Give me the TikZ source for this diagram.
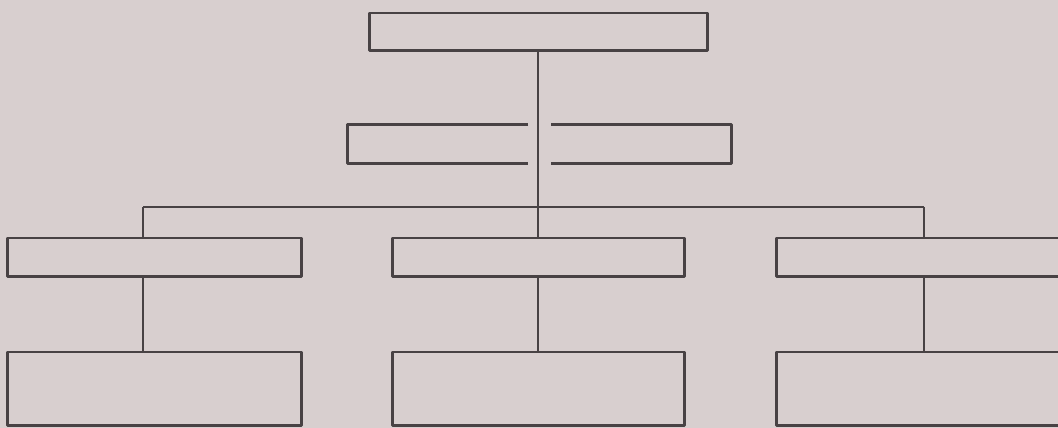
\documentclass[tikz,border=0pt]{standalone}
\usetikzlibrary{positioning}
\definecolor{paper}{RGB}{216,207,207}
\definecolor{ink}{RGB}{72,66,68}
\tikzset{
  unitbox/.style={draw=ink, line width=1.7pt, line join=round, inner sep=0pt,
                  minimum width=#1},
  unitbox/.default=5.9cm,
  gapline/.style={ink, line width=1.7pt, line join=round},
  link/.style={draw=ink, line width=1.1pt},
}
\begin{document}
\begin{tikzpicture}[x=0.02cm, y=-0.02cm]
  % page and clip
  \fill[paper] (0,0) rectangle (1058,428);
  \useasboundingbox (0,0) rectangle (1058,428);
  \clip (0,0) rectangle (1058,428);

  % top box
  \node[unitbox=6.78cm, minimum height=0.76cm] (head) at (538.5,32) {};

  % middle box, open round the trunk
  \node[inner sep=0pt, minimum width=7.66cm, minimum height=0.76cm] (mid) at (539.5,144) {};
  \coordinate (gl) at (528,144);
  \coordinate (gr) at (551,144);
  \draw[gapline] (gl |- mid.north) -- (mid.north west) -- (mid.south west) -- (gl |- mid.south);
  \draw[gapline] (gr |- mid.north) -- (mid.north east) -- (mid.south east) -- (gr |- mid.south);

  % first row
  \node[unitbox, minimum height=0.78cm] (left1)  at (154.5,257.5) {};
  \node[unitbox=5.86cm, minimum height=0.78cm] (cent1) at (538.5,257.5) {};
  \node[unitbox, minimum height=0.78cm] (right1) at (923.5,257.5) {};

  % second row
  \node[unitbox, minimum height=1.48cm] (left2)  at (154.5,389) {};
  \node[unitbox=5.86cm, minimum height=1.48cm] (cent2) at (538.5,389) {};
  \node[unitbox, minimum height=1.48cm] (right2) at (923.5,389) {};

  % bus
  \coordinate (busl) at (143,207);
  \coordinate (busm) at (538,207);
  \coordinate (busr) at (924,207);

  % connectors
  \draw[link] (head.south -| busm) -- (busm);
  \draw[link] (busl) -- (busr);
  \draw[link] (busl) -- (busl |- left1.north);
  \draw[link] (busm) -- (busm |- cent1.north);
  \draw[link] (busr) -- (busr |- right1.north);
  \draw[link] (left1.south -| busl) -- (left2.north -| busl);
  \draw[link] (cent1.south -| busm) -- (cent2.north -| busm);
  \draw[link] (right1.south -| busr) -- (right2.north -| busr);
\end{tikzpicture}
\end{document}
